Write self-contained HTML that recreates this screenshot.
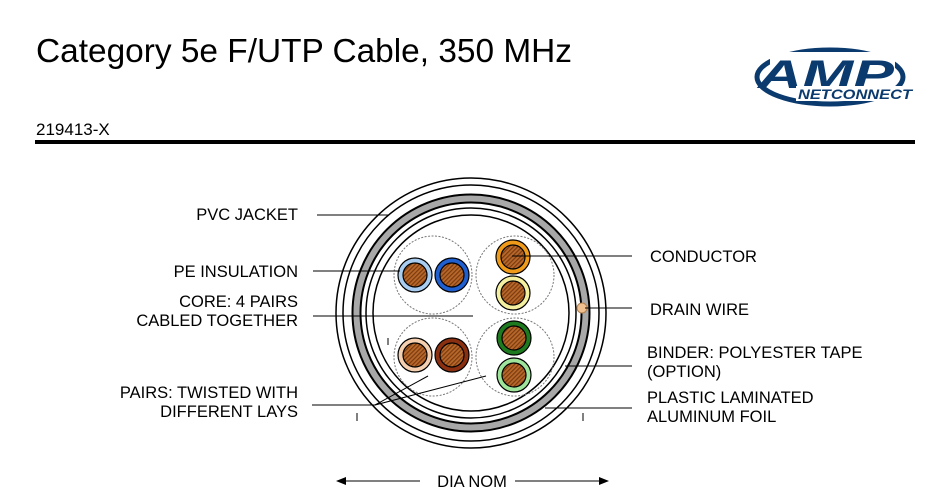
<!DOCTYPE html>
<html><head><meta charset="utf-8"><style>
html,body{margin:0;padding:0;background:#fff;}
svg{display:block;font-family:"Liberation Sans",Arial,sans-serif;}
</style></head><body>
<svg width="939" height="501" viewBox="0 0 939 501" xmlns="http://www.w3.org/2000/svg">
<defs>
<pattern id="hatch" width="3" height="3" patternUnits="userSpaceOnUse" patternTransform="rotate(45)">
<rect width="3" height="3" fill="#b8682a"/><rect width="1.2" height="3" fill="#7a3a10"/>
</pattern>
</defs>
<text x="36" y="62" font-size="33" textLength="536" lengthAdjust="spacingAndGlyphs">Category 5e F/UTP Cable, 350 MHz</text>
<text x="36" y="135" font-size="17">219413-X</text>
<rect x="35" y="140" width="880" height="4" fill="#000"/>
<!-- logo -->
<g>
<ellipse cx="830" cy="77" rx="73" ry="27" fill="none" stroke="#0b3a6e" stroke-width="5"/>
<rect x="770" y="52" width="125" height="36" fill="#fff"/>
<text x="758" y="88" font-size="40" font-weight="bold" font-style="italic" fill="#0b3a6e" textLength="136" lengthAdjust="spacingAndGlyphs">AMP</text>
<rect x="796" y="86" width="118" height="15" fill="#fff"/>
<text x="798" y="99" font-size="14" font-weight="bold" font-style="italic" fill="#0b3a6e" textLength="114" lengthAdjust="spacingAndGlyphs">NETCONNECT</text>
</g>
<!-- cable -->
<g fill="none" stroke="#000">
<circle cx="471" cy="313" r="135" stroke-width="1.5"/>
<circle cx="471" cy="313" r="128" stroke-width="1.5"/>
<circle cx="471" cy="313" r="114.5" stroke="#a8a8a8" stroke-width="8"/>
<circle cx="471" cy="313" r="118.5" stroke-width="2"/>
<circle cx="471" cy="313" r="110.5" stroke-width="2"/>
<circle cx="471" cy="313" r="105" stroke-width="1.5"/>
<circle cx="471" cy="313" r="98" stroke-width="1.5"/>
<g stroke="#777" stroke-dasharray="2 1.5" stroke-width="1">
<circle cx="433" cy="275" r="39"/><circle cx="515" cy="275" r="39"/>
<circle cx="433" cy="357" r="39"/><circle cx="515" cy="357" r="39"/>
</g>
</g>
<g stroke="#000" stroke-width="1.2">
<circle cx="415" cy="275" r="17" fill="#a9cdf0"/>
<circle cx="452" cy="275" r="17" fill="#1f5fd0"/>
<circle cx="513" cy="257" r="17" fill="#f09a1a"/>
<circle cx="513" cy="293" r="17" fill="#f4f0a0"/>
<circle cx="415" cy="355" r="17" fill="#f4d0b0"/>
<circle cx="452" cy="355" r="17" fill="#8a3010"/>
<circle cx="514" cy="338" r="17" fill="#1e7a1e"/>
<circle cx="514" cy="375" r="17" fill="#9ee49a"/>
<g fill="url(#hatch)">
<circle cx="415" cy="275" r="12"/><circle cx="452" cy="275" r="12"/>
<circle cx="513" cy="257" r="12"/><circle cx="513" cy="293" r="12"/>
<circle cx="415" cy="355" r="12"/><circle cx="452" cy="355" r="12"/>
<circle cx="514" cy="338" r="12"/><circle cx="514" cy="375" r="12"/>
</g>
<circle cx="582" cy="308" r="5" fill="#f0c090" stroke="#b08050" stroke-width="1"/>
</g>
<!-- leaders -->
<g stroke="#000" stroke-width="1">
<line x1="317" y1="215" x2="388" y2="215"/>
<line x1="313" y1="271" x2="400" y2="271"/>
<line x1="313" y1="316" x2="473" y2="316"/>
<line x1="512" y1="256" x2="632" y2="256"/>
<line x1="585" y1="308" x2="632" y2="308"/>
<line x1="565" y1="366" x2="632" y2="366"/>
<line x1="545" y1="408" x2="632" y2="408"/>
<line x1="312" y1="405" x2="375" y2="405"/>
<line x1="375" y1="405" x2="428" y2="376"/>
<line x1="375" y1="405" x2="486" y2="376"/>
<line x1="357" y1="413" x2="357" y2="421"/>
<line x1="583" y1="413" x2="583" y2="421"/>
<line x1="388" y1="338" x2="388" y2="345"/>
<line x1="338" y1="481" x2="420" y2="481"/>
<line x1="515" y1="481" x2="607" y2="481"/>
</g>
<polygon points="336,481 346,477 346,485" fill="#000"/>
<polygon points="609,481 599,477 599,485" fill="#000"/>
<g font-size="16.5" fill="#000">
<text x="298" y="220" text-anchor="end">PVC JACKET</text>
<text x="298" y="277" text-anchor="end">PE INSULATION</text>
<text x="298" y="307" text-anchor="end">CORE: 4 PAIRS</text>
<text x="298" y="326" text-anchor="end">CABLED TOGETHER</text>
<text x="298" y="398" text-anchor="end">PAIRS: TWISTED WITH</text>
<text x="298" y="417" text-anchor="end">DIFFERENT LAYS</text>
<text x="650" y="262">CONDUCTOR</text>
<text x="650" y="315">DRAIN WIRE</text>
<text x="647" y="358">BINDER: POLYESTER TAPE</text>
<text x="647" y="377">(OPTION)</text>
<text x="647" y="403">PLASTIC LAMINATED</text>
<text x="647" y="422">ALUMINUM FOIL</text>
<text x="472" y="487" text-anchor="middle">DIA NOM</text>
</g>
</svg>
</body></html>
